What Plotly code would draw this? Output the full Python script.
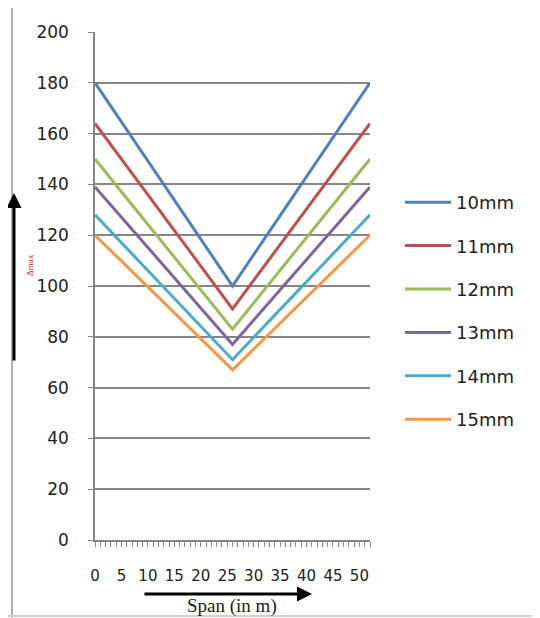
import plotly.graph_objects as go

span = [0, 26, 52]
series_names = ["10mm", "11mm", "12mm", "13mm", "14mm", "15mm"]
v10 = [180, 100, 180]
v11 = [164, 91, 164]
v12 = [150, 83, 150]
v13 = [139, 77, 139]
v14 = [128, 71, 128]
v15 = [120, 67, 120]
colors = ["#4F81BD", "#C0504D", "#9BBB59", "#8064A2", "#4BACC6", "#F79646"]
x_ticks = [0, 5, 10, 15, 20, 25, 30, 35, 40, 45, 50]
y_ticks = [0, 20, 40, 60, 80, 100, 120, 140, 160, 180, 200]

OFF = 8  # page body margin
L, R, T, B = 87, 170, 24, 78
W, H = 532, 610
pw, ph = W - L - R, H - T - B

def px(x):
    return (x - OFF - L) / pw

def py(y):
    return (H - B - (y - OFF)) / ph

fig = go.Figure()
for name, vals, c in zip(series_names, [v10, v11, v12, v13, v14, v15], colors):
    fig.add_trace(go.Scatter(x=span, y=vals, mode="lines", name=name,
                             legendgroup=name,
                             line=dict(color=c, width=3)))

font = "DejaVu Sans"
fig.update_layout(
    width=W, height=H,
    margin=dict(l=L, r=R, t=T, b=B),
    plot_bgcolor="white", paper_bgcolor="white",
    showlegend=True,
    legend=dict(x=px(400), y=py(184), xanchor="left", yanchor="top",
                font=dict(family=font, size=18, color="#222"),
                tracegroupgap=17, itemwidth=46, bgcolor="rgba(0,0,0,0)"),
    xaxis=dict(range=[0, 52], tickvals=x_ticks, ticks="outside", ticklen=5,
               tickcolor="#868686", showline=True, linecolor="#868686",
               linewidth=1.5, showgrid=False, zeroline=False,
               ticklabelstandoff=16,
               tickfont=dict(family=font, size=15, color="#222"),
               minor=dict(dtick=1, ticks="outside", ticklen=5,
                          tickcolor="#868686")),
    yaxis=dict(range=[0, 200], tickvals=y_ticks, ticks="outside", ticklen=5,
               tickcolor="#868686", showline=True, linecolor="#868686",
               linewidth=1.5, showgrid=True, gridcolor="#868686",
               gridwidth=1.5, zeroline=False, ticklabelstandoff=16,
               tickfont=dict(family=font, size=17, color="#222")),
)

# frame lines (left and bottom)
fig.add_shape(type="line", xref="paper", yref="paper",
              x0=px(12), x1=px(12), y0=py(8), y1=py(618),
              line=dict(color="#B0B0B0", width=2))
fig.add_shape(type="line", xref="paper", yref="paper",
              x0=px(8), x1=px(540), y0=py(616), y1=py(616),
              line=dict(color="#D0D0D0", width=2))

# y arrow
fig.add_annotation(xref="paper", yref="paper", x=px(14), y=py(193),
                   ax=0, ay=169,
                   showarrow=True, arrowhead=2, arrowsize=1, arrowwidth=3,
                   arrowcolor="black", text="")
# x arrow
fig.add_annotation(xref="paper", yref="paper", x=px(312), y=py(594),
                   ax=-169, ay=0,
                   showarrow=True, arrowhead=2, arrowsize=1, arrowwidth=3,
                   arrowcolor="black", text="")

fig.add_annotation(xref="paper", yref="paper", x=px(232), y=py(619),
                   yanchor="bottom", yshift=0,
                   text="Span (in m)", showarrow=False,
                   font=dict(family="Liberation Serif", size=19, color="#222"))
fig.add_annotation(xref="paper", yref="paper", x=px(23), y=py(265),
                   text="Δmax", showarrow=False, textangle=-90,
                   font=dict(family="Liberation Serif", size=9, color="#D02020"))

fig.write_html("out.html")
